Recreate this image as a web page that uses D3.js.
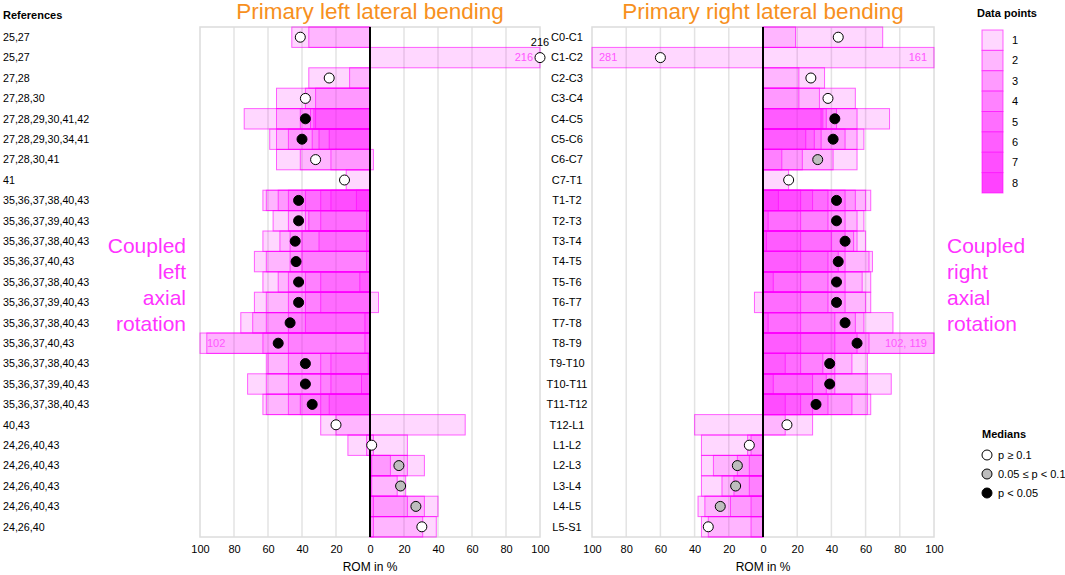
<!DOCTYPE html>
<meta charset="utf-8">
<script src="https://d3js.org/d3.v7.min.js"></script>
<style>
  body { margin: 0; background: #fff; }
  text { font-family: "Liberation Sans", Arial, sans-serif; }
</style>
<div id="chart"></div>
<script>

// spinal segments (rows, top to bottom)
var segments = ["C0-C1","C1-C2","C2-C3","C3-C4","C4-C5","C5-C6","C6-C7","C7-T1",
  "T1-T2","T2-T3","T3-T4","T4-T5","T5-T6","T6-T7","T7-T8","T8-T9","T9-T10","T10-T11","T11-T12",
  "T12-L1","L1-L2","L2-L3","L3-L4","L4-L5","L5-S1"];

var references = ["25,27","25,27","27,28","27,28,30","27,28,29,30,41,42","27,28,29,30,34,41","27,28,30,41","41",
  "35,36,37,38,40,43","35,36,37,39,40,43","35,36,37,38,40,43","35,36,37,40,43","35,36,37,38,40,43",
  "35,36,37,39,40,43","35,36,37,38,40,43","35,36,37,40,43","35,36,37,38,40,43","35,36,37,39,40,43",
  "35,36,37,38,40,43","40,43","24,26,40,43","24,26,40,43","24,26,40,43","24,26,40,43","24,26,40"];

// coupled left axial rotation during primary left lateral bending (positive = left)
var leftValues = [
  [46, 36], [-216], [36, 12], [55, 38, 32], [74, 55, 41, 35, 33, 32], [59, 55, 48, 34, 30, 24],
  [55, 41, 23, -2], [14],
  [63, 61, 54, 48, 38, 29, 23, 8], [57, 48, 38, 36, 29, 2], [63, 53, 47, 40, 30, 2], [68, 61, 47, 40, 2],
  [63, 54, 48, 38, 29, 6], [68, 61, 48, 38, 29, -5], [76, 69, 61, 48, 38, 3], [102, 96, 63, 48, 3],
  [61, 60, 48, 29, 23, 1], [72, 61, 48, 29, 23, 5], [63, 61, 48, 41, 29, 24],
  [29, 20, -56], [13, 2, -2, -22], [-1, -12, -22, -32], [-1, -16, -21], [-2, -22, -32, -40], [-2, -31, -39]
];

// coupled right axial rotation during primary right lateral bending (positive = right)
var rightValues = [
  [19, 70], [-281, 161], [21, 36], [21, 33, 54], [34, 35, 37, 43, 55, 74], [25, 30, 34, 48, 55, 59],
  [11, 23, 41, 55], [15],
  [9, 22, 29, 38, 48, 54, 60, 63], [3, 22, 38, 48, 55, 59], [2, 22, 40, 48, 53, 55, 60], [22, 38, 44, 48, 62, 64],
  [6, 22, 38, 48, 58, 63], [-5, 22, 38, 48, 60, 63], [3, 22, 42, 54, 59, 76], [22, 42, 55, 62, 102, 119],
  [13, 22, 35, 42, 52, 61], [6, 29, 37, 42, 61, 75], [13, 22, 29, 38, 52, 61, 63],
  [-40, 13, 29], [-36, -9, -7], [-36, -29, -15, -8], [-36, -24, -17, -8], [-38, -34, -19, -7], [-36, -32, -7]
];

// medians and their p-value class: 0 = p >= 0.1, 1 = 0.05 <= p < 0.1, 2 = p < 0.05
var leftMedians = [41, -216, 24, 38, 38, 40, 32, 15, 42, 42, 44, 43.5, 42, 42, 47, 54, 38, 38, 34, 20, -1, -17, -18, -27, -30.5];
var leftP =       [0, 0, 0, 0, 2, 2, 0, 0, 2, 2, 2, 2, 2, 2, 2, 2, 2, 2, 2, 0, 0, 1, 1, 1, 0];
var rightMedians = [44, -60, 28, 38, 42, 41, 32, 15, 43, 43, 48, 44, 43, 43, 48, 55, 39, 39, 31, 14, -8, -15, -16, -25, -32];
var rightP =       [0, 0, 0, 0, 2, 2, 1, 0, 2, 2, 2, 2, 2, 2, 2, 2, 2, 2, 2, 0, 0, 1, 1, 1, 0];

var tickValues = [-100, -80, -60, -40, -20, 0, 20, 40, 60, 80, 100];
var dataPointLevels = [1, 2, 3, 4, 5, 6, 7, 8];
var medianClasses = ["p \u2265 0.1", "0.05 \u2264 p < 0.1", "p < 0.05"];

var width = 1065, height = 575;
var plotTop = 27, plotBottom = 537;
var layerAlpha = 0.155;
var pink = "#ff00ff";
var medianFill = ["#ffffff", "#bdbdbd", "#000000"];

var svg = d3.select("#chart").append("svg")
  .attr("width", width)
  .attr("height", height);

var y = d3.scaleBand()
  .domain(segments)
  .range([plotTop, plotBottom]);

var panels = [
  { values: leftValues, medians: leftMedians, p: leftP, title: "Primary left lateral bending",
    x: d3.scaleLinear().domain([100, -100]).range([200, 540]) },
  { values: rightValues, medians: rightMedians, p: rightP, title: "Primary right lateral bending",
    x: d3.scaleLinear().domain([-100, 100]).range([592, 934]) }
];

function clamp(v) { return Math.max(-100, Math.min(100, v)); }

panels.forEach(function(panel) {
  var x = panel.x;
  var g = svg.append("g");

  // grid
  g.selectAll(".grid")
    .data(tickValues.filter(function(d) { return Math.abs(d) < 100; }))
    .enter().append("line")
      .attr("x1", function(d) { return x(d); })
      .attr("x2", function(d) { return x(d); })
      .attr("y1", plotTop)
      .attr("y2", plotBottom)
      .attr("stroke", "#e3e3e3")
      .attr("stroke-width", 1.5);

  g.append("rect")
    .attr("x", x.range()[0])
    .attr("y", plotTop)
    .attr("width", x.range()[1] - x.range()[0])
    .attr("height", plotBottom - plotTop)
    .attr("fill", "none")
    .attr("stroke", "#dcdcdc")
    .attr("stroke-width", 1.5);

  // one translucent bar per data point, overlap gives the shade
  var bars = [];
  panel.values.forEach(function(vals, i) {
    vals.forEach(function(v) { bars.push({ seg: segments[i], v: v }); });
  });

  g.selectAll(".bar")
    .data(bars)
    .enter().append("rect")
      .attr("x", function(d) { return Math.min(x(0), x(clamp(d.v))); })
      .attr("y", function(d) { return y(d.seg); })
      .attr("width", function(d) { return Math.abs(x(clamp(d.v)) - x(0)); })
      .attr("height", y.bandwidth())
      .attr("fill", pink)
      .attr("fill-opacity", layerAlpha)
      .attr("stroke", pink)
      .attr("stroke-opacity", 0.6)
      .attr("stroke-width", 1);

  // labels for values outside the axis
  panel.values.forEach(function(vals, i) {
    [1, -1].forEach(function(sign) {
      var out = vals.filter(function(v) { return v * sign > 100; });
      if (!out.length) return;
      var edge = x(100 * sign);
      var inward = edge < x(0) ? 1 : -1;
      g.append("text")
        .attr("x", edge + inward * 7)
        .attr("y", y(segments[i]) + y.bandwidth() / 2)
        .attr("dy", "0.35em")
        .attr("text-anchor", inward > 0 ? "start" : "end")
        .attr("fill", "#ff55ff")
        .style("font-size", "11px")
        .text(out.map(function(v) { return Math.abs(v); }).join(", "));
    });
  });

  // zero line
  g.append("line")
    .attr("x1", x(0)).attr("x2", x(0))
    .attr("y1", plotTop).attr("y2", plotBottom)
    .attr("stroke", "#000")
    .attr("stroke-width", 2);

  // medians
  g.selectAll(".median")
    .data(panel.medians)
    .enter().append("circle")
      .attr("cx", function(d) { return x(clamp(d)); })
      .attr("cy", function(d, i) { return y(segments[i]) + y.bandwidth() / 2; })
      .attr("r", 5)
      .attr("fill", function(d, i) { return medianFill[panel.p[i]]; })
      .attr("stroke", "#000")
      .attr("stroke-width", 1);

  panel.medians.forEach(function(d, i) {
    if (Math.abs(d) <= 100) return;
    g.append("text")
      .attr("x", x(clamp(d)))
      .attr("y", y(segments[i]) + y.bandwidth() / 2 - 12)
      .attr("text-anchor", "middle")
      .style("font-size", "11px")
      .text(Math.abs(d));
  });

  // axis
  var axis = g.append("g")
    .attr("transform", "translate(0," + plotBottom + ")")
    .call(d3.axisBottom(x).tickValues(tickValues).tickSize(0).tickPadding(8)
      .tickFormat(function(d) { return Math.abs(d); }));
  axis.select(".domain").remove();
  axis.selectAll("text")
    .style("font-family", "Liberation Sans, Arial, sans-serif")
    .style("font-size", "11px")
    .attr("fill", "#000");

  g.append("text")
    .attr("x", x(0))
    .attr("y", 571)
    .attr("text-anchor", "middle")
    .style("font-size", "12px")
    .text("ROM in %");

  g.append("text")
    .attr("x", x(0))
    .attr("y", 19)
    .attr("text-anchor", "middle")
    .attr("fill", "#f7901e")
    .style("font-size", "22.5px")
    .text(panel.title);
});

// segment names between the panels
svg.selectAll(".seg")
  .data(segments)
  .enter().append("text")
    .attr("x", 567)
    .attr("y", function(d) { return y(d) + y.bandwidth() / 2; })
    .attr("dy", "0.35em")
    .attr("text-anchor", "middle")
    .style("font-size", "11px")
    .text(function(d) { return d; });

// references column
svg.append("text")
  .attr("x", 3).attr("y", 19)
  .style("font-size", "11px")
  .style("font-weight", "bold")
  .text("References");

svg.selectAll(".ref")
  .data(references)
  .enter().append("text")
    .attr("x", 3)
    .attr("y", function(d, i) { return y(segments[i]) + y.bandwidth() / 2; })
    .attr("dy", "0.35em")
    .style("font-size", "10.7px")
    .text(function(d) { return d; });

// side labels
function sideLabel(lines, xPos, anchor) {
  var t = svg.append("text")
    .attr("text-anchor", anchor)
    .attr("fill", "#ff33ff")
    .style("font-size", "21px");
  lines.forEach(function(l, i) {
    t.append("tspan").attr("x", xPos).attr("y", 253 + i * 26).text(l);
  });
}
sideLabel(["Coupled", "left", "axial", "rotation"], 186, "end");
sideLabel(["Coupled", "right", "axial", "rotation"], 947, "start");

// legend: data points
svg.append("text")
  .attr("x", 1007).attr("y", 17)
  .attr("text-anchor", "middle")
  .style("font-size", "11px")
  .style("font-weight", "bold")
  .text("Data points");

var legendY = d3.scaleBand().domain(dataPointLevels).range([30, 193]);
var shade = d3.interpolateRgb("#ffffff", pink);

svg.selectAll(".lg")
  .data(dataPointLevels)
  .enter().append("rect")
    .attr("x", 982)
    .attr("y", function(d) { return legendY(d); })
    .attr("width", 21)
    .attr("height", legendY.bandwidth())
    .attr("fill", function(d) { return shade(1 - Math.pow(1 - layerAlpha, d)); })
    .attr("stroke", pink)
    .attr("stroke-opacity", 0.6);

svg.selectAll(".lgt")
  .data(dataPointLevels)
  .enter().append("text")
    .attr("x", 1012)
    .attr("y", function(d) { return legendY(d) + legendY.bandwidth() / 2; })
    .attr("dy", "0.35em")
    .style("font-size", "11px")
    .text(function(d) { return d; });

// legend: medians
svg.append("text")
  .attr("x", 982).attr("y", 438)
  .style("font-size", "11px")
  .style("font-weight", "bold")
  .text("Medians");

medianClasses.forEach(function(label, i) {
  svg.append("circle")
    .attr("cx", 987).attr("cy", 455 + i * 19)
    .attr("r", 5)
    .attr("fill", medianFill[i])
    .attr("stroke", "#000");
  svg.append("text")
    .attr("x", 998).attr("y", 455 + i * 19)
    .attr("dy", "0.35em")
    .style("font-size", "11px")
    .text(label);
});

</script>
